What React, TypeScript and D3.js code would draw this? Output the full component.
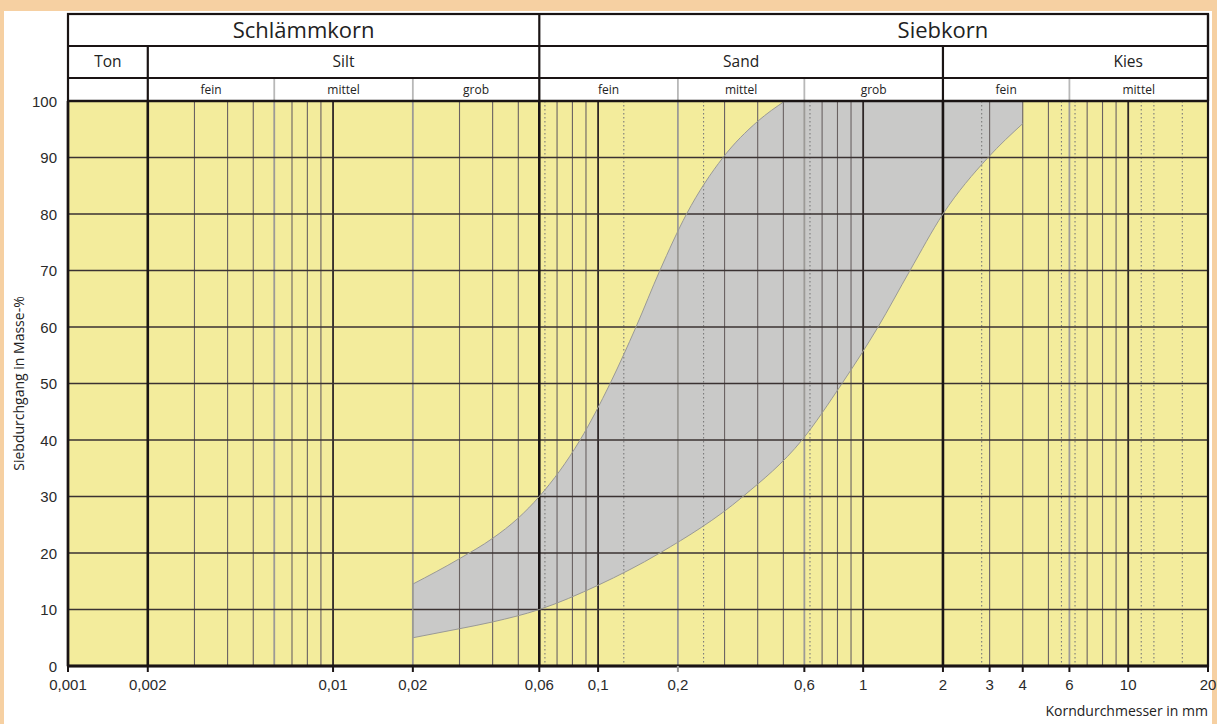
import React from "react";
import * as d3 from "d3";

// ---- data ----
const xTickValues = [0.001, 0.002, 0.01, 0.02, 0.06, 0.1, 0.2, 0.6, 1, 2, 3, 4, 6, 10, 20];
const xTickLabels = ["0,001", "0,002", "0,01", "0,02", "0,06", "0,1", "0,2", "0,6", "1", "2", "3", "4", "6", "10", "20"];
const yTickValues = [0, 10, 20, 30, 40, 50, 60, 70, 80, 90, 100];

const minorLines = [0.003, 0.004, 0.005, 0.007, 0.008, 0.009, 0.03, 0.04, 0.05, 0.07, 0.08, 0.09, 0.3, 0.4, 0.5, 0.7, 0.8, 0.9, 3, 4, 5, 7, 8, 9];
const subBoundaryLines = [0.006, 0.02, 0.2, 0.6, 6];
const decadeLines = [0.01, 0.1, 1, 10];
const mainBoundaryLines = [0.002, 0.06, 2];
const sieveLines = [0.063, 0.125, 0.25, 0.63, 2.8, 5.6, 6.3, 11.2, 12.5, 16];

// upper (fine) limit of band
const upperD = [0.02, 0.03, 0.04, 0.05, 0.06, 0.0855, 0.111, 0.139, 0.171, 0.2156, 0.296, 0.4, 0.507];
const upperP = [14.5, 19, 22.6, 26.2, 30, 40, 50, 60, 70, 80, 90, 96.4, 100];
// lower (coarse) limit of band
const lowerD = [0.02, 0.03, 0.04, 0.06, 0.1, 0.171, 0.352, 0.588, 0.832, 1.138, 1.502, 2, 2.96, 4];
const lowerP = [5, 6.6, 7.8, 10, 14.3, 20, 30, 40, 50, 60, 70, 80, 90, 96];
const bandEnd = 4;

// header
const mainGroups = [
  { label: "Schlämmkorn", from: 0.001, to: 0.06, at: null as number | null },
  { label: "Siebkorn", from: 0.06, to: 20, at: 2 as number | null },
];
const soilGroups = [
  { label: "Ton", from: 0.001, to: 0.002, at: null as number | null },
  { label: "Silt", from: 0.002, to: 0.06, at: null as number | null },
  { label: "Sand", from: 0.06, to: 2, at: null as number | null },
  { label: "Kies", from: 2, to: 20, at: 10 as number | null },
];
const subGroups = [
  { label: "fein", from: 0.002, to: 0.006 },
  { label: "mittel", from: 0.006, to: 0.02 },
  { label: "grob", from: 0.02, to: 0.06 },
  { label: "fein", from: 0.06, to: 0.2 },
  { label: "mittel", from: 0.2, to: 0.6 },
  { label: "grob", from: 0.6, to: 2 },
  { label: "fein", from: 2, to: 6 },
  { label: "mittel", from: 6, to: 20 },
];

const yTitle = "Siebdurchgang in Masse-%";
const xTitle = "Korndurchmesser in mm";

const W = 1217;
const H = 724;
const L = 68, R = 1208, T = 101, B = 666;
const hTop = 14, r1 = 46, r2 = 78;

const narrow = "'Liberation Sans Narrow', 'Arial Narrow', 'Open Sans', sans-serif";
const arial = "'Liberation Sans', Arial, sans-serif";

export default function App() {
  const x = d3.scaleLog().domain([0.001, 20]).range([L, R]);
  const y = d3.scaleLinear().domain([0, 100]).range([B, T]);

  const upperPts: [number, number][] = upperD.map((d, i) => [x(d), y(upperP[i])]);
  const lowerPts: [number, number][] = lowerD.map((d, i) => [x(d), y(lowerP[i])]);
  const line = d3.line().curve(d3.curveMonotoneX);
  const upperPath = line(upperPts) || "";
  const lowerPath = line(lowerPts) || "";
  const lowerRev = line([...lowerPts].reverse()) || "";
  const bandPath =
    upperPath +
    `L${x(bandEnd)},${y(100)}L${x(bandEnd)},${lowerPts[lowerPts.length - 1][1]}` +
    lowerRev.replace(/^M/, "L") +
    "Z";

  const vline = (v: number, stroke: string, sw: number, dash?: string, key?: string) => (
    <line key={key} x1={x(v)} x2={x(v)} y1={T} y2={B} stroke={stroke} strokeWidth={sw} strokeDasharray={dash} />
  );

  return (
    <>
      <style>{`body{margin:0;background:#f6d0a2;}`}</style>
      <svg width={W} height={H} style={{ display: "block" }}>
        <rect x={0} y={0} width={W} height={H} fill="#f6d0a2" />
        <rect x={4} y={11} width={1208} height={H - 11} fill="#ffffff" />
        {/* plot background */}
        <rect x={L} y={T} width={R - L} height={B - T} fill="#f3ec9c" />
        {/* band */}
        <path d={bandPath} fill="#c9c9c8" stroke="none" />
        {/* vertical grid */}
        {minorLines.map((v, i) => vline(v, "#6a6262", 1.1, undefined, "mi" + i))}
        {sieveLines.map((v, i) => vline(v, "#7a7a7a", 1.1, "1.5,2.5", "sv" + i))}
        {subBoundaryLines.map((v, i) => vline(v, "#9c9a96", 1.8, undefined, "sb" + i))}
        {decadeLines.map((v, i) => vline(v, "#2e2626", 1.8, undefined, "de" + i))}
        {/* horizontal grid */}
        {yTickValues.filter((v) => v > 0 && v < 100).map((v) => (
          <line key={"h" + v} x1={L} x2={R} y1={y(v)} y2={y(v)} stroke="#3a3232" strokeWidth={1.6} />
        ))}
        {mainBoundaryLines.map((v, i) => vline(v, "#1a1414", 2.6, undefined, "mb" + i))}
        {/* band outlines */}
        <path d={upperPath} fill="none" stroke="#9a9a96" strokeWidth={1} />
        <path d={lowerPath} fill="none" stroke="#9a9a96" strokeWidth={1} />
        <line x1={x(upperD[0])} x2={x(upperD[0])} y1={y(upperP[0])} y2={y(lowerP[0])} stroke="#9a9a96" strokeWidth={1} />

        {/* header */}
        <rect x={L} y={hTop} width={R - L} height={T - hTop} fill="#ffffff" />
        {subGroups.map((g, i) => (
          <g key={"sg" + i}>
            <line x1={x(g.to)} x2={x(g.to)} y1={r2} y2={T} stroke="#b8b8b8" strokeWidth={1.8} />
            <text x={(x(g.from) + x(g.to)) / 2} y={(r2 + T) / 2 + 4} textAnchor="middle" fontFamily={narrow} fontSize={12} fill="#222">
              {g.label}
            </text>
          </g>
        ))}
        {soilGroups.map((g, i) => (
          <g key={"so" + i}>
            <line x1={x(g.to)} x2={x(g.to)} y1={r1} y2={T} stroke="#1a1414" strokeWidth={2.2} />
            <text x={g.at != null ? x(g.at) : (x(g.from) + x(g.to)) / 2} y={(r1 + r2) / 2 + 5} textAnchor="middle" fontFamily={narrow} fontSize={15.5} fill="#222">
              {g.label}
            </text>
          </g>
        ))}
        {mainGroups.map((g, i) => (
          <g key={"mg" + i}>
            <line x1={x(g.to)} x2={x(g.to)} y1={hTop} y2={r1} stroke="#1a1414" strokeWidth={2.2} />
            <text x={g.at != null ? x(g.at) : (x(g.from) + x(g.to)) / 2} y={(hTop + r1) / 2 + 7.5} textAnchor="middle" fontFamily={narrow} fontSize={22} fill="#222">
              {g.label}
            </text>
          </g>
        ))}
        <line x1={L} x2={R} y1={r1} y2={r1} stroke="#1a1414" strokeWidth={2} />
        <line x1={L} x2={R} y1={r2} y2={r2} stroke="#1a1414" strokeWidth={1.8} />
        <rect x={L} y={hTop} width={R - L} height={B - hTop} fill="none" stroke="#1a1414" strokeWidth={2.2} />
        <line x1={L} x2={R} y1={T} y2={T} stroke="#1a1414" strokeWidth={2.6} />
        <line x1={L} x2={R} y1={B} y2={B} stroke="#1a1414" strokeWidth={2.8} />
        <line x1={L} x2={L} y1={T} y2={B} stroke="#1a1414" strokeWidth={2.6} />

        {/* x ticks */}
        {xTickValues.map((v, i) => (
          <g key={"xt" + i}>
            <line x1={x(v)} x2={x(v)} y1={B} y2={B + 6} stroke={v === 0.2 ? "#999" : "#1a1414"} strokeWidth={2} />
            <text x={x(v)} y={B + 24} textAnchor="middle" fontFamily={arial} fontSize={15} fill="#2a2a2a">
              {xTickLabels[i]}
            </text>
          </g>
        ))}
        {/* y ticks */}
        {yTickValues.map((v) => (
          <text key={"yt" + v} x={57} y={y(v) + 5.5} textAnchor="end" fontFamily={arial} fontSize={15} fill="#2a2a2a">
            {v}
          </text>
        ))}
        {/* titles */}
        <text transform={`translate(24,${(T + B) / 2}) rotate(-90)`} textAnchor="middle" fontFamily={narrow} fontSize={14} fill="#222">
          {yTitle}
        </text>
        <text x={R} y={716} textAnchor="end" fontFamily={narrow} fontSize={14} fill="#222">
          {xTitle}
        </text>
      </svg>
    </>
  );
}
